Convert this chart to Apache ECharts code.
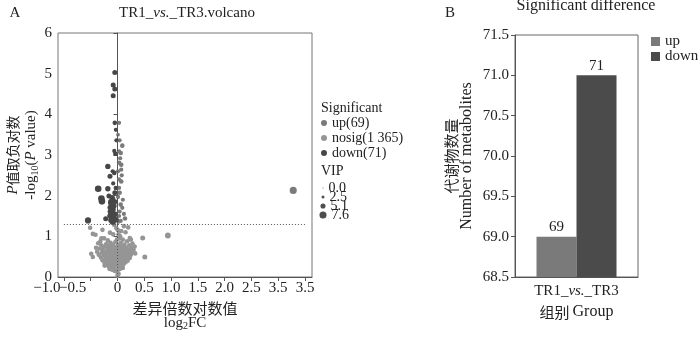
<!DOCTYPE html>
<html><head><meta charset="utf-8">
<script src="https://cdn.jsdelivr.net/npm/echarts@6/dist/echarts.min.js"></script>
<style>html,body{margin:0;padding:0;background:#fff}#c{width:700px;height:339px}</style>
</head><body><div id="c"></div>
<script>
// ---------- data ----------
const xTickValues = [-1, -0.5, 0, 0.5, 1, 1.5, 2, 2.5, 3, 3.5];
const xTickLabels = ['−1.0', '−0.5', '0', '0.5', '1.0', '1.5', '2.0', '2.5', '3.5', '3.5'];
const yTickValues = [0, 1, 2, 3, 4, 5, 6];
const pThreshold = 1.301;   // -log10(0.05)
const fcZero = 0;
const seriesNames = ['up(69)', 'nosig(1 365)', 'down(71)'];
const vipLegendValues = [0.0, 2.5, 5.1, 7.6];
const vipLegendLabels = ['0.0', '2.5', '5.1', '7.6'];
const nosigVIP = 4.5;

// [log2FC, -log10(P), VIP]
const downPoints = [
  [-0.05,5.03,5],[-0.08,4.72,5],[-0.05,4.62,5],[-0.08,4.46,5],
  [-0.05,3.79,4.5],[-0.03,3.62,4],[-0.02,3.36,4],[-0.04,3.03,4.5],[-0.06,3.10,4],
  [-0.18,2.72,5.5],[-0.06,2.56,4.5],[-0.14,2.48,5],[-0.09,2.60,4],
  [-0.36,2.17,7],[-0.18,2.17,5.5],[-0.03,2.19,4.5],[-0.05,2.07,5],[-0.08,2.30,4],
  [-0.30,1.93,7],[-0.29,1.86,7],[-0.16,1.99,5],[-0.09,1.90,6],[-0.12,1.84,6.5],
  [-0.11,1.78,6.5],[-0.14,1.71,5],[-0.09,1.66,6.5],[-0.13,1.61,6],[-0.11,1.54,6.5],
  [-0.07,1.46,6.5],[-0.09,1.36,6.5],[-0.06,1.40,6],[-0.02,1.41,5],[-0.55,1.39,6.5],
  [-0.22,1.43,5],[-0.04,1.55,5],[-0.10,1.95,5.5],[-0.07,1.75,6],[-0.12,1.40,6],
  [-0.15,1.50,4.5],[-0.03,1.85,4.5]
];
const upPoints = [
  [0.03,3.79,4],[0.01,3.50,3.5],[0.04,3.36,4],[0.09,3.23,4.5],[0.03,3.09,4],
  [0.06,3.05,4.5],[0.05,2.92,4],[0.03,2.81,4.5],[0.07,2.76,4.5],[0.07,2.64,4],
  [0.01,2.60,4],[0.08,2.50,4],[0.03,2.40,4],[0.07,2.35,4.5],[0.03,2.19,4],
  [0.04,2.07,4.5],[0.01,1.97,4],[0.10,1.90,4],[0.06,1.78,4.5],[0.04,1.61,4],
  [0.12,1.55,4],[0.03,1.50,4],[0.14,1.44,4.5],[0.02,1.36,4],[0.06,1.38,4],
  [0.09,1.70,4],[3.28,2.13,7.6]
];
const nosigPoints = [
  [-0.38,0.62],[-0.35,0.55],[-0.33,0.70],[-0.31,0.48],[-0.30,0.78],[-0.29,0.60],[-0.28,0.41],
  [-0.27,0.67],[-0.26,0.53],[-0.25,0.74],[-0.24,0.35],[-0.23,0.58],[-0.22,0.46],[-0.21,0.81],
  [-0.20,0.63],[-0.20,0.39],[-0.19,0.52],[-0.18,0.71],[-0.18,0.28],[-0.17,0.60],[-0.16,0.44],
  [-0.16,0.77],[-0.15,0.55],[-0.15,0.33],[-0.14,0.66],[-0.14,0.49],[-0.13,0.84],[-0.13,0.38],
  [-0.12,0.58],[-0.12,0.25],[-0.11,0.72],[-0.11,0.45],[-0.10,0.62],[-0.10,0.31],[-0.09,0.53],
  [-0.09,0.80],[-0.08,0.41],[-0.08,0.67],[-0.07,0.22],[-0.07,0.57],[-0.06,0.74],[-0.06,0.36],
  [-0.05,0.49],[-0.05,0.63],[-0.04,0.28],[-0.04,0.86],[-0.03,0.55],[-0.03,0.42],[-0.02,0.70],
  [-0.02,0.18],[-0.01,0.60],[-0.01,0.33],[0.00,0.47],[0.00,0.12],[0.01,0.78],[0.01,0.52],
  [0.02,0.38],[0.02,0.65],[0.03,0.26],[0.03,0.58],[0.04,0.44],[0.04,0.73],[0.05,0.35],
  [0.05,0.61],[0.06,0.50],[0.06,0.84],[0.07,0.29],[0.07,0.67],[0.08,0.42],[0.08,0.56],
  [0.09,0.75],[0.09,0.37],[0.10,0.62],[0.10,0.48],[0.11,0.31],[0.11,0.70],[0.12,0.55],
  [0.13,0.43],[0.13,0.80],[0.14,0.64],[0.15,0.36],[0.15,0.52],[0.16,0.72],[0.17,0.46],
  [0.18,0.60],[0.19,0.40],[0.20,0.68],[0.21,0.54],[0.22,0.78],[0.23,0.47],[0.24,0.63],
  [0.25,0.55],[0.26,0.71],[0.27,0.60],[0.28,0.82],[0.30,0.67],[0.32,0.75],[0.33,0.58],
  [-0.15,0.20],[-0.05,0.15],[0.02,0.08],[0.05,0.20],[-0.10,0.18],[0.10,0.22],[0.00,0.03],
  [-0.22,0.30],[-0.40,0.72],[-0.36,0.83],[-0.32,0.88],[-0.18,0.90],[0.10,0.92],[0.05,1.00],
  [-0.08,1.05],[0.15,1.10],[-0.02,1.20],[0.03,0.95],[0.18,0.88],[0.25,0.92],[-0.25,0.95],
  [-0.51,1.21],[-0.46,1.06],[-0.41,1.04],[-0.30,0.95],[-0.14,1.09],[0.07,1.13],[0.20,1.22],
  [0.23,0.96],[0.47,0.96,5],[0.51,0.49,5],[0.94,1.02,6],[-0.49,0.57],[-0.46,0.49],[-0.24,0.28],
  [0.01,0.06],[-0.28,1.16],[0.12,1.25],[-0.06,1.28],[0.02,1.05],[-0.01,0.92],[0.01,1.15]
];

const barCategories = ['TR1_vs._TR3'];
const barSeriesNames = ['up', 'down'];
const barUpValues = [69];
const barDownValues = [71];
const barYMin = 68.5, barYMax = 71.5, barYStep = 0.5;

// ---------- styles ----------
const SERIF = "'Liberation Serif','Times New Roman','Noto Sans CJK SC',serif";
const CJK = "'Noto Sans CJK SC','Liberation Serif',serif";
const colUp = '#7a7a7a', colNosig = '#959595', colDown = '#474747';
const axisCol = '#555';
const vipSize = v => 1 + v * 0.8;
const X_MIN = -1.11, X_MAX = 3.63;

const chart = echarts.init(document.getElementById('c'));

const labelMap = {};
xTickValues.forEach((v, i) => labelMap[v] = xTickLabels[i]);

const legendVip = vipLegendLabels.map((name, i) => {
  const s = vipSize(vipLegendValues[i]);
  return {
    orient: 'vertical', left: 323 - s / 2, top: 181 + i * 9, itemWidth: s, itemHeight: s,
    icon: 'circle', data: [name], selectedMode: false, padding: 0,
    textStyle: { fontFamily: SERIF, fontSize: 14, color: '#222', lineHeight: 11 }
  };
});

// label-only helper axes for the two negative tick labels (shifted left as in the original)
function negLabelAxis(value, padRight) {
  return {
    gridIndex: 0, type: 'value', min: X_MIN, max: X_MAX, position: 'bottom',
    axisLine: { show: false }, axisTick: { show: false }, splitLine: { show: false },
    axisLabel: {
      customValues: [value], margin: 4, color: '#222', fontFamily: SERIF, fontSize: 15,
      formatter: v => '{p|' + labelMap[v] + '}',
      rich: { p: { fontFamily: SERIF, fontSize: 15, padding: [0, padRight, 0, 0] } }
    }
  };
}

const option = {
  animation: false,
  backgroundColor: '#fff',
  textStyle: { fontFamily: SERIF },
  graphic: [
    { type: 'text', x: 15, y: 13, style: { text: 'A', font: '15px ' + SERIF, fill: '#222', textAlign: 'center', textVerticalAlign: 'middle' } },
    { type: 'text', x: 187, y: 13, style: { text: 'TR1_{i|vs.}_TR3.volcano', font: '15px ' + SERIF, fill: '#222', textAlign: 'center', textVerticalAlign: 'middle',
      rich: { i: { fontStyle: 'italic', fontFamily: SERIF, fontSize: 15 } } } },
    { type: 'text', x: 450, y: 13, style: { text: 'B', font: '15px ' + SERIF, fill: '#222', textAlign: 'center', textVerticalAlign: 'middle' } },
    { type: 'text', x: 586, y: 6, style: { text: 'Significant difference', font: '16px ' + SERIF, fill: '#222', textAlign: 'center', textVerticalAlign: 'middle' } },
    { type: 'text', x: 321, y: 108, style: { text: 'Significant', font: '14px ' + SERIF, fill: '#222', textAlign: 'left', textVerticalAlign: 'middle' } },
    { type: 'text', x: 321, y: 171, style: { text: 'VIP', font: '14px ' + SERIF, fill: '#222', textAlign: 'left', textVerticalAlign: 'middle' } }
  ],
  legend: [
    {
      orient: 'vertical', left: 321, top: 116, itemWidth: 6, itemHeight: 6, itemGap: 1, padding: 0,
      icon: 'circle', data: seriesNames, selectedMode: false,
      textStyle: { fontFamily: SERIF, fontSize: 14, color: '#222', lineHeight: 14 }
    },
    {
      orient: 'vertical', left: 651, top: 34, itemWidth: 9, itemHeight: 9, itemGap: 0, padding: 0,
      icon: 'rect', data: barSeriesNames, selectedMode: false,
      textStyle: { fontFamily: SERIF, fontSize: 15, color: '#222', lineHeight: 12 }
    },
    ...legendVip
  ],
  grid: [
    { left: 58, top: 33, width: 254, height: 244, show: true, borderColor: '#777', borderWidth: 1, containLabel: false },
    { left: 515, top: 35, width: 123, height: 242, show: true, borderColor: '#666', borderWidth: 1, containLabel: false }
  ],
  xAxis: [
    {
      gridIndex: 0, type: 'value', min: X_MIN, max: X_MAX,
      axisLine: { onZero: false, lineStyle: { color: axisCol } },
      axisTick: { customValues: xTickValues, length: 4, lineStyle: { color: axisCol } },
      axisLabel: {
        customValues: xTickValues.filter(v => v >= 0), margin: 4, color: '#222', fontFamily: SERIF, fontSize: 15,
        formatter: v => labelMap[v]
      },
      splitLine: { show: false },
      name: '{c|差异倍数对数值}\n{n|log}{s|2}{n|FC}', nameLocation: 'middle', nameGap: 23,
      nameTextStyle: {
        color: '#222', lineHeight: 15,
        rich: {
          c: { fontFamily: CJK, fontSize: 15, lineHeight: 15 },
          n: { fontFamily: SERIF, fontSize: 15, lineHeight: 15 },
          s: { fontFamily: SERIF, fontSize: 10, lineHeight: 15, verticalAlign: 'bottom', padding: [6, 0, 0, 0] }
        }
      }
    },
    {
      gridIndex: 1, type: 'category', data: barCategories,
      axisLine: { lineStyle: { color: axisCol } },
      axisTick: { alignWithLabel: true, length: 4, lineStyle: { color: axisCol } },
      axisLabel: {
        margin: 7, color: '#222', fontSize: 15, fontFamily: SERIF,
        formatter: v => v.replace('_vs._', '_{i|vs.}_'),
        rich: { i: { fontStyle: 'italic', fontFamily: SERIF, fontSize: 15 } }
      },
      name: '{c|组别} {n|Group}', nameLocation: 'middle', nameGap: 27,
      nameTextStyle: {
        color: '#222',
        rich: { c: { fontFamily: CJK, fontSize: 15 }, n: { fontFamily: SERIF, fontSize: 16 } }
      }
    },
    negLabelAxis(xTickValues[0], 34),
    negLabelAxis(xTickValues[1], 36)
  ],
  yAxis: [
    {
      gridIndex: 0, type: 'value', min: 0, max: 6, interval: 1,
      axisLine: { show: true, lineStyle: { color: axisCol } },
      axisTick: { show: true, length: 4, lineStyle: { color: axisCol } },
      axisLabel: { margin: 6, color: '#222', fontSize: 15, fontFamily: SERIF },
      splitLine: { show: false },
      name: '{i|P}{c|值取负对数}\n{n|-log}{s|10}{n|(}{i|P}{n| value)}', nameLocation: 'middle', nameGap: 18, nameRotate: 90,
      nameTextStyle: {
        color: '#222', lineHeight: 18,
        rich: {
          c: { fontFamily: CJK, fontSize: 14, lineHeight: 18 },
          i: { fontFamily: SERIF, fontStyle: 'italic', fontSize: 15, lineHeight: 18 },
          n: { fontFamily: SERIF, fontSize: 15, lineHeight: 18 },
          s: { fontFamily: SERIF, fontSize: 10, lineHeight: 18, verticalAlign: 'bottom', padding: [6, 0, 0, 0] }
        }
      }
    },
    {
      gridIndex: 1, type: 'value', min: barYMin, max: barYMax, interval: barYStep,
      axisLine: { show: true, lineStyle: { color: axisCol } },
      axisTick: { show: true, length: 4, lineStyle: { color: axisCol } },
      axisLabel: { margin: 6, color: '#222', fontSize: 15, fontFamily: SERIF, formatter: v => v.toFixed(1) },
      splitLine: { show: false },
      name: '{c|代谢物数量}\n{n|Number of metabolites}', nameLocation: 'middle', nameGap: 40, nameRotate: 90,
      nameTextStyle: {
        color: '#222', lineHeight: 16,
        rich: {
          c: { fontFamily: CJK, fontSize: 15, lineHeight: 16 },
          n: { fontFamily: SERIF, fontSize: 16, lineHeight: 16 }
        }
      }
    }
  ],
  series: [
    {
      name: seriesNames[1], type: 'scatter', xAxisIndex: 0, yAxisIndex: 0,
      data: nosigPoints, symbolSize: d => vipSize(d[2] != null ? d[2] : nosigVIP),
      itemStyle: { color: colNosig, opacity: 1 },
      markLine: {
        silent: true, symbol: 'none', label: { show: false },
        lineStyle: { type: [1, 2], color: '#555', width: 1 },
        data: [
          { xAxis: fcZero },
          [{ coord: [xTickValues[0], pThreshold] }, { coord: [xTickValues[xTickValues.length - 1], pThreshold] }]
        ]
      }
    },
    {
      name: seriesNames[0], type: 'scatter', xAxisIndex: 0, yAxisIndex: 0,
      data: upPoints, symbolSize: d => vipSize(d[2]),
      itemStyle: { color: colUp, opacity: 1 }
    },
    {
      name: seriesNames[2], type: 'scatter', xAxisIndex: 0, yAxisIndex: 0,
      data: downPoints, symbolSize: d => vipSize(d[2]),
      itemStyle: { color: colDown, opacity: 1 }
    },
    ...vipLegendLabels.map(n => ({
      name: n, type: 'scatter', xAxisIndex: 0, yAxisIndex: 0, data: [], itemStyle: { color: '#222' }
    })),
    {
      name: barSeriesNames[0], type: 'bar', xAxisIndex: 1, yAxisIndex: 1, data: barUpValues,
      barWidth: 40, barGap: '0%', itemStyle: { color: '#7a7a7a' },
      label: { show: true, position: 'top', distance: 2, color: '#222', fontSize: 15, fontFamily: SERIF }
    },
    {
      name: barSeriesNames[1], type: 'bar', xAxisIndex: 1, yAxisIndex: 1, data: barDownValues,
      barWidth: 40, barGap: '0%', itemStyle: { color: '#4b4b4b' },
      label: { show: true, position: 'top', distance: 2, color: '#222', fontSize: 15, fontFamily: SERIF }
    }
  ]
};
chart.setOption(option);
</script>
</body></html>
